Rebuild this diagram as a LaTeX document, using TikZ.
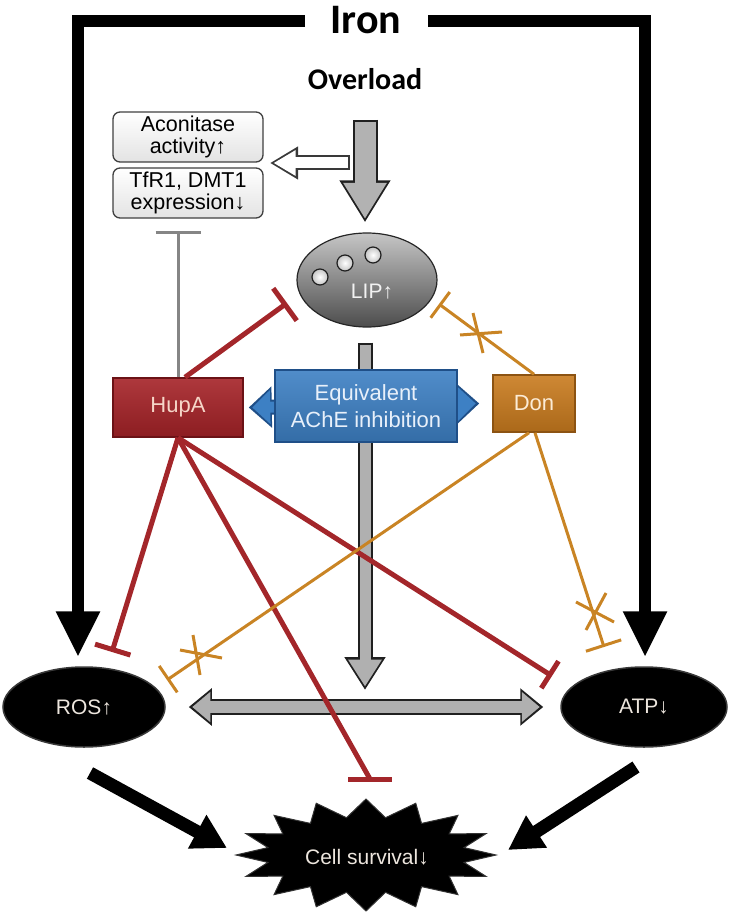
\documentclass[tikz,border=0pt]{standalone}
\usepackage{fontspec}
\setmainfont{Liberation Sans}
\newfontfamily\calfont{Carlito}
\usetikzlibrary{arrows.meta,shapes.geometric,calc,backgrounds}
\definecolor{hupared}{HTML}{A52227}
\definecolor{hupadark}{HTML}{6B1216}
\definecolor{redline}{HTML}{A3262A}
\definecolor{donor}{HTML}{C97B1E}
\definecolor{dondark}{HTML}{8C5312}
\definecolor{orline}{HTML}{C98424}
\definecolor{achebl}{HTML}{3D80C4}
\definecolor{achedark}{HTML}{1F4F88}
\definecolor{lighttxt}{HTML}{EDE6DE}
\begin{document}
\begin{tikzpicture}[x=1pt,y=-1pt,
  txtbox/.style={rounded corners=7pt, draw=black!75, line width=1.3pt, top color=white, bottom color=gray!22,
    minimum width=150pt, minimum height=50pt, inner sep=0pt, align=center, font=\fontsize{21.5}{22}\selectfont},
  colbox/.style={inner sep=0pt, line width=1.5pt, font=\fontsize{22}{27}\selectfont, align=center},
  blackell/.style={ellipse, fill=black, draw=gray!45!black, line width=1.5pt, inner sep=0pt,
    text=lighttxt, font=\fontsize{21}{21}\selectfont},
  ironarrow/.style={line width=12pt, line join=miter, draw=black, -{Triangle[width=41pt,length=46pt]}},
  blackarrow/.style={line width=13pt, draw=black, -{Triangle[width=36pt,length=34pt]}},
  redinh/.style={draw=redline, line width=5pt},
  orinh/.style={draw=orline, line width=3pt},
  crossmark/.style={draw=orline, line width=3pt},
  greyinh/.style={draw=black!48, line width=3pt, -{Bar[width=45pt]}}
  ]
\useasboundingbox (0,0) rectangle (729,912);

% ---------- nodes ----------
\node[font=\calfont\bfseries\fontsize{42}{42}\selectfont] (iron) at (366,20) {Iron};
\node[font=\calfont\bfseries\fontsize{30}{30}\selectfont] (over) at (365,79) {Overload};
\node[txtbox] (acon) at (188,137) {Aconitase\\activity↑};
\node[txtbox] (tfr) at (188,193) {TfR1, DMT1\\expression↓};
\node[ellipse, minimum width=140pt, minimum height=94pt, inner sep=0pt, draw=gray!30!black, line width=1.2pt,
  top color=gray!45, bottom color=gray!60!black] (lip) at (367,280) {};
\node[text=gray!10, font=\fontsize{21}{21}\selectfont] (liptxt) at (372,292) {LIP↑};
\foreach \cx/\cy in {320/277,345/263,373/255}
  \draw[gray!25!black, line width=1.2pt, inner color=white, outer color=gray!45] (\cx,\cy) circle[radius=8pt];

\node[colbox, minimum width=130pt, minimum height=59pt, top color=hupared!90!white, bottom color=hupared!85!black,
  draw=hupadark, text={rgb,255:red,246;green,214;blue,200}] (hupa) at (178,407.5) {HupA};
\node[colbox, minimum width=182pt, minimum height=72pt, top color=achebl!90!white, bottom color=achebl!85!black,
  draw=achedark, text={rgb,255:red,232;green,240;blue,250}] (ache) at (366,406) {Equivalent\\AChE inhibition};
\node[colbox, minimum width=82pt, minimum height=57pt, top color=donor!90!white, bottom color=donor!85!black,
  draw=dondark, text={rgb,255:red,252;green,236;blue,214}] (don) at (534,403.5) {Don};

\node[blackell, minimum width=162pt, minimum height=80pt] (ros) at (84,707) {ROS↑};
\node[blackell, minimum width=166pt, minimum height=80pt] (atp) at (644,707) {ATP↓};
\node[text=lighttxt, font=\fontsize{21}{21}\selectfont] (cs) at (367,857) {Cell survival↓};

% ---------- named end points ----------
\coordinate (ironL) at (305,21);
\coordinate (ironR) at (428,21);
\coordinate (ovA) at (365,120);
\coordinate (waS) at (350,163);
\coordinate (waT) at (270,163);
\coordinate (ctip) at (365,690);
\coordinate (tLip) at (287,303);
\coordinate (oLip) at (439,304);
\coordinate (tRos) at (112,652);
\coordinate (oRos) at (167,680);
\coordinate (tCell) at (370,779);
\coordinate (tAtp) at (552,676);
\coordinate (oAtp) at (604,647);
\coordinate (rosO) at (90,773);
\coordinate (csL) at (227,848);
\coordinate (atpO) at (636,767);
\coordinate (csR) at (508,850);

% ---------- background ----------
\begin{scope}[on background layer]
  % star
  \fill[black] plot[samples at={0,...,31}] ({366+(100+30*(1-mod(\x,2)))*cos(\x*360/32)}, {855+(38+18*(1-mod(\x,2)))*sin(\x*360/32)}) -- cycle;
  \draw[gray!40!black, line width=1pt] plot[samples at={0,...,31}] ({366+(100+30*(1-mod(\x,2)))*cos(\x*360/32)}, {855+(38+18*(1-mod(\x,2)))*sin(\x*360/32)}) -- cycle;
  % central grey arrow
  \draw[line width=15pt, draw=gray!25!black, -{Triangle[width=39pt,length=33pt]}] ($(lip.south)+(-2,15)$) -- (ctip);
  \draw[line width=11pt, draw=gray!62, -{Triangle[width=32pt,length=27pt]}, shorten >=3.5pt, shorten <=2pt] ($(lip.south)+(-2,15)$) -- (ctip);
  % ROS <-> ATP
  \draw[line width=16pt, draw=gray!25!black, {Triangle[width=36pt,length=23pt]}-{Triangle[width=36pt,length=23pt]}]
    ($(ros.east)+(23,0)$) -- ($(atp.west)+(-17,0)$);
  \draw[line width=12pt, draw=gray!62, {Triangle[width=29pt,length=18pt]}-{Triangle[width=29pt,length=18pt]}, shorten >=3.5pt, shorten <=3.5pt]
    ($(ros.east)+(23,0)$) -- ($(atp.west)+(-17,0)$);
  % blue double arrow
  \draw[line width=15pt, draw=achedark, {Triangle[width=40pt,length=23pt]}-{Triangle[width=40pt,length=23pt]}]
    ($(hupa.east)+(5,0)$) -- ($(don.west)+(-13,0)$);
  \draw[line width=11pt, draw=achebl, {Triangle[width=33pt,length=18pt]}-{Triangle[width=33pt,length=18pt]}, shorten >=3.5pt, shorten <=3.5pt]
    ($(hupa.east)+(5,0)$) -- ($(don.west)+(-13,0)$);
\end{scope}

% ---------- Iron arrows ----------
\draw[ironarrow] (ironL) -| ($(ros.north)+(-6,-9)$);
\draw[ironarrow] (ironR) -| ($(atp.north)+(1,-9)$);

% ---------- overload arrow ----------
\draw[line width=25pt, draw=gray!25!black, -{Triangle[width=48pt,length=42pt]}] (ovA) -- ($(lip.north)+(-2,-10)$);
\draw[line width=21pt, draw=gray!60, -{Triangle[width=41pt,length=36pt]}, shorten >=3.5pt, shorten <=2pt] (ovA) -- ($(lip.north)+(-2,-10)$);

% ---------- white hollow arrow ----------
\draw[line width=15pt, draw=gray!45!black, -{Triangle[width=31pt,length=28pt]}] (waS) -- (waT);
\draw[line width=11pt, draw=white, -{Triangle[width=24pt,length=22pt]}, shorten >=3.5pt, shorten <=2pt] (waS) -- (waT);

% ---------- grey inhibition ----------
\draw[greyinh] (hupa.north) -- ($(tfr.south)+(-10,12)$);

% ---------- red inhibitions ----------
\draw[redinh, -{Bar[width=40pt]}] ($(hupa.north)+(7,0)$) -- (tLip);
\draw[redinh, -{Bar[width=37pt]}] (hupa.south) -- (tRos);
\draw[redinh] (hupa.south) -- (tCell);
\draw[redinh] ($(tCell)+(-22,0)$) -- ($(tCell)+(22,0)$);
\draw[redinh, -{Bar[width=32pt]}] (hupa.south) -- (tAtp);

% ---------- orange inhibitions ----------
\draw[orinh, -{Bar[width=32pt]}] (don.north) -- (oLip);
\draw[orinh, -{Bar[width=32pt]}] ($(don.south)+(-5,0)$) -- (oRos);
\draw[orinh, -{Bar[width=37pt]}] ($(don.south)+(1,0)$) -- (oAtp);
\draw[crossmark] (460,335) -- (502,332) (473,313) -- (483,353);
\draw[crossmark] (180,650) -- (222,658) (193,635) -- (200,675);
\draw[crossmark] (576,602) -- (614,622) (586,630) -- (606,593);

% ---------- to cell survival ----------
\draw[blackarrow] (rosO) -- (csL);
\draw[blackarrow] (atpO) -- (csR);
\end{tikzpicture}
\end{document}
